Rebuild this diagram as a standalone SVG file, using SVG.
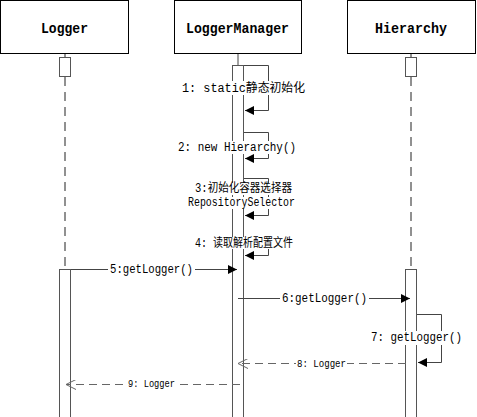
<svg xmlns="http://www.w3.org/2000/svg" width="477" height="417" viewBox="0 0 477 417">
<style>
.box{fill:#fff;stroke:#000;stroke-width:1}
.hdr{font-family:"Liberation Mono","Noto Sans CJK SC",monospace;font-weight:bold;font-size:15px;fill:#000}
.life{stroke:#222;stroke-width:1;stroke-dasharray:9,6;fill:none}
.act{fill:#fff;stroke:#555;stroke-width:1}
.msg{stroke:#444;stroke-width:1;fill:none}
.ret{stroke:#666;stroke-width:1;fill:none;stroke-dasharray:8,5}
.lbl{font-family:"Liberation Mono","Noto Sans CJK SC",monospace;font-size:12px;fill:#000}
.sm{font-size:10px}
.bg{fill:#fff}
</style>
<defs>
<marker id="fa" viewBox="0 0 10 10" refX="10" refY="5" markerWidth="9" markerHeight="9" markerUnits="userSpaceOnUse" orient="auto"><path d="M0,0 L10,5 L0,10 z" fill="#000"/></marker>
<marker id="oa" viewBox="0 0 10 10" refX="10" refY="5" markerWidth="10" markerHeight="10" markerUnits="userSpaceOnUse" orient="auto"><path d="M0,0 L10,5 L0,10" fill="none" stroke="#666" stroke-width="1"/></marker>
</defs>
<rect width="477" height="417" fill="#fff"/>

<g id="node-logger">
<rect class="box" x="0.5" y="0.5" width="128" height="53"/>
<text class="hdr" x="41" y="33" textLength="47" lengthAdjust="spacingAndGlyphs">Logger</text>
<line class="life" x1="65" y1="54" x2="65" y2="57"/>
<rect class="act" x="59.5" y="57.5" width="11" height="19"/>
<line class="life" x1="65" y1="77" x2="65" y2="269"/>
<rect class="act" x="59.5" y="269.5" width="11" height="150"/>
</g>

<g id="node-loggermanager">
<rect class="box" x="174.5" y="0.5" width="127" height="53"/>
<text class="hdr" x="186" y="33" textLength="103" lengthAdjust="spacingAndGlyphs">LoggerManager</text>
<line class="msg" x1="238" y1="54" x2="238" y2="65"/>
<rect class="act" x="232.5" y="65.5" width="11" height="360"/>
</g>

<g id="node-hierarchy">
<rect class="box" x="347.5" y="0.5" width="128" height="53"/>
<text class="hdr" x="375" y="33" textLength="72" lengthAdjust="spacingAndGlyphs">Hierarchy</text>
<line class="life" x1="411" y1="54" x2="411" y2="57"/>
<rect class="act" x="405.5" y="57.5" width="11" height="19"/>
<line class="life" x1="411" y1="77" x2="411" y2="269"/>
<rect class="act" x="405.5" y="269.5" width="11" height="150"/>
</g>

<g id="connectors">
<polyline class="msg" points="244,65.5 268.5,65.5 268.5,110.5 245,110.5" marker-end="url(#fa)"/>
<polyline class="msg" points="244,132.5 268.5,132.5 268.5,158.5 245,158.5" marker-end="url(#fa)"/>
<polyline class="msg" points="244,178.5 268.5,178.5 268.5,215.5 245,215.5" marker-end="url(#fa)"/>
<polyline class="msg" points="244,238.5 268.5,238.5 268.5,255.5 245,255.5" marker-end="url(#fa)"/>
<line class="msg" x1="71" y1="269.5" x2="237" y2="269.5" marker-end="url(#fa)"/>
<line class="msg" x1="238" y1="298.5" x2="410" y2="298.5" marker-end="url(#fa)"/>
<polyline class="msg" points="417,314.5 441.5,314.5 441.5,362.5 418,362.5" marker-end="url(#fa)"/>
<line class="ret" x1="406" y1="363.5" x2="238" y2="363.5" marker-end="url(#oa)"/>
<line class="ret" x1="240" y1="384.5" x2="66" y2="384.5" marker-end="url(#oa)"/>
</g>

<g id="labels">
<rect class="bg" x="181" y="81" width="125" height="14"/>
<text class="lbl" x="182" y="92" textLength="123" lengthAdjust="spacingAndGlyphs">1: static静态初始化</text>
<rect class="bg" x="177" y="141" width="120" height="13"/>
<text class="lbl" x="178" y="151" textLength="118" lengthAdjust="spacingAndGlyphs">2: new Hierarchy()</text>
<rect class="bg" x="194" y="183" width="99" height="12"/>
<text class="lbl" x="195" y="192" font-size="11" textLength="97" lengthAdjust="spacingAndGlyphs">3:初始化容器选择器</text>
<rect class="bg" x="187" y="197" width="109" height="12"/>
<text class="lbl" x="188" y="206" font-size="11" textLength="107" lengthAdjust="spacingAndGlyphs">RepositorySelector</text>
<rect class="bg" x="194" y="237" width="100" height="12"/>
<text class="lbl" x="195" y="247" font-size="11" textLength="98" lengthAdjust="spacingAndGlyphs">4: 读取解析配置文件</text>
<rect class="bg" x="108" y="262" width="87" height="13"/>
<text class="lbl" x="110" y="273" textLength="83" lengthAdjust="spacingAndGlyphs">5:getLogger()</text>
<rect class="bg" x="280" y="291" width="89" height="14"/>
<text class="lbl" x="282" y="302" textLength="85" lengthAdjust="spacingAndGlyphs">6:getLogger()</text>
<rect class="bg" x="370" y="331" width="93" height="14"/>
<text class="lbl" x="371" y="341" textLength="91" lengthAdjust="spacingAndGlyphs">7:  getLogger()</text>
<rect class="bg" x="296" y="359" width="51" height="10"/>
<text class="lbl sm" x="297" y="367" textLength="49" lengthAdjust="spacingAndGlyphs">8: Logger</text>
<rect class="bg" x="127" y="379" width="49" height="10"/>
<text class="lbl sm" x="128" y="387" textLength="47" lengthAdjust="spacingAndGlyphs">9: Logger</text>
</g>
</svg>
